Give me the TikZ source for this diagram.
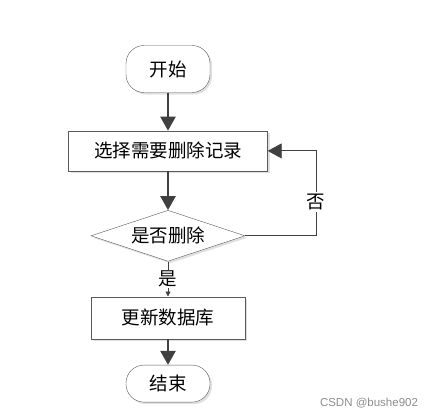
\documentclass[tikz,border=0pt]{standalone}
\usepackage{fontspec}
\newfontfamily\cjk{Noto Sans CJK SC}
\setsansfont{Liberation Sans}
\usetikzlibrary{positioning,shapes.geometric,shadows,arrows.meta}
\definecolor{linegray}{HTML}{404040}
\definecolor{framegray}{HTML}{5A5A5A}

\begin{document}
\begin{tikzpicture}[x=1pt, y=-1pt, node distance=38pt,
	font=\cjk\fontsize{18.5}{21}\selectfont,
	shade/.style={drop shadow={shadow xshift=2pt, shadow yshift=-2pt, fill=black!12, opacity=1}},
	terminal/.style={rectangle, rounded corners=18pt, draw=framegray, fill=white, minimum width=84pt, minimum height=47pt, shade},
	process/.style={rectangle, draw=framegray, fill=white, minimum height=40pt, shade},
	decision/.style={diamond, draw=framegray, fill=white, aspect=3, inner sep=0pt, minimum width=154pt, minimum height=51pt, shade},
	flow/.style={draw=linegray, line width=2.4pt, -{Triangle[length=14pt, width=15pt]}},
	back/.style={draw=linegray, line width=0.9pt, -{Triangle[length=14pt, width=15pt]}},
	yes/.style={draw=linegray, line width=0.9pt, -{Triangle[length=5pt, width=5pt]}}]
	\useasboundingbox (0,0) rectangle (436,418);
	\node[terminal] (start) at (168,69)                                {开始};
	\node[process, minimum width=199pt] (select) [below=of start]       {选择需要删除记录};
	\node[decision] (ask) [node distance=39pt, below=of select]          {是否删除};
	\node[process, minimum width=154pt, minimum height=42pt] (update) [node distance=35pt, below=of ask] {更新数据库};
	\node[terminal, minimum height=37pt] (stop) [node distance=26pt, below=of update] {结束};
	\node[font=\sffamily\fontsize{11.5}{13}\selectfont, text=black!45] (mark) at (369,403) {CSDN @bushe902};
	
	\path[flow] (start) -- (select);
	\path[flow] (select) -- (ask);
	\path[yes] (ask) -- node[fill=white, inner sep=1pt] {是} (update);
	\path[flow] (update) -- (stop);
	\path[back] (ask.east) -- ++(71,0) |- node[pos=0.2, fill=white, inner sep=2pt] {否} (select.east);
\end{tikzpicture}
\end{document}
